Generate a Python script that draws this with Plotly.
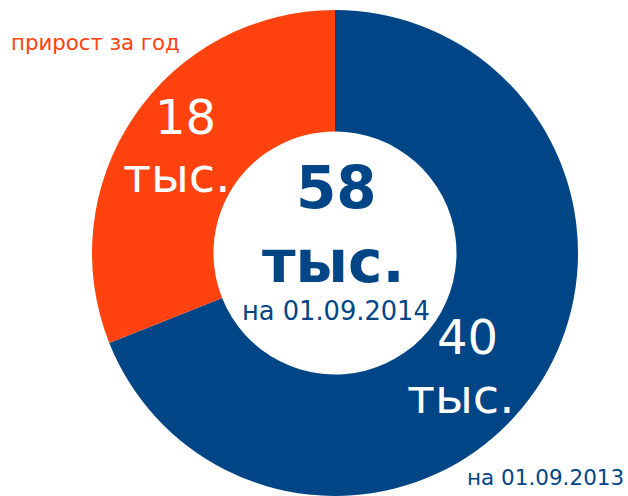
import plotly.graph_objects as go

categories = ["на 01.09.2013", "прирост за год"]
values = [40, 18]
colors = ["#004586", "#ff420e"]
unit = "тыс."
center_caption = "на 01.09.2014"

W, H = 628, 496
FONT = "DejaVu Sans"

def px(x):
    return x / W

def py(y):
    return 1 - y / H

fig = go.Figure()
fig.add_trace(go.Pie(
    labels=categories,
    values=values,
    marker=dict(colors=colors, line=dict(width=0)),
    hole=0.5,
    sort=False,
    direction="clockwise",
    rotation=0,
    textinfo="none",
    hoverinfo="label+value",
    showlegend=False,
    domain=dict(x=[px(335 - 243), px(335 + 243)], y=[py(253 + 243), py(253 - 243)]),
))

total = sum(values)
ann = []
# center
ann.append(dict(text=f"<b>{total}</b>", x=px(336), y=py(188), font=dict(size=58, color=colors[0])))
ann.append(dict(text=f"<b>{unit}</b>", x=px(333), y=py(262), font=dict(size=58, color=colors[0])))
ann.append(dict(text=center_caption, x=px(336), y=py(311), font=dict(size=25.7, color=colors[0])))
# slice labels
ann.append(dict(text=str(values[1]), x=px(185), y=py(117), font=dict(size=48, color="white")))
ann.append(dict(text=unit, x=px(177), y=py(175), font=dict(size=48, color="white")))
ann.append(dict(text=str(values[0]), x=px(468), y=py(337), font=dict(size=48, color="white")))
ann.append(dict(text=unit, x=px(461), y=py(396), font=dict(size=48, color="white")))
# category labels
ann.append(dict(text=categories[1], x=px(9), y=py(42), xanchor="left", font=dict(size=21.3, color=colors[1])))
ann.append(dict(text=categories[0], x=px(626), y=py(477), xanchor="right", font=dict(size=21.5, color=colors[0])))

for a in ann:
    a.setdefault("xanchor", "center")
    a["yanchor"] = "middle"
    a["showarrow"] = False
    a["xref"] = "paper"
    a["yref"] = "paper"
    a["font"]["family"] = FONT

fig.update_layout(
    width=W, height=H,
    margin=dict(l=0, r=0, t=0, b=0),
    paper_bgcolor="white",
    plot_bgcolor="white",
    annotations=ann,
    font=dict(family=FONT),
)

fig.write_html(
    "out.html",
    config={"displayModeBar": False},
    post_script="document.body.style.margin='0';document.body.style.overflow='hidden';",
)
